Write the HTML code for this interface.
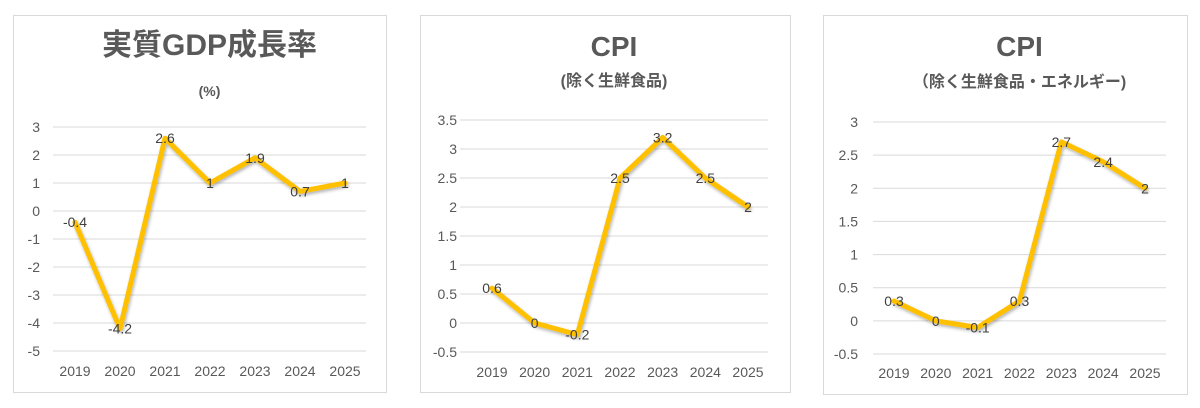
<!DOCTYPE html>
<html><head><meta charset="utf-8">
<style>
body{margin:0;background:#fff;width:1200px;height:408px;overflow:hidden;font-family:"Liberation Sans","Noto Sans CJK JP",sans-serif}
svg{position:absolute;left:0;top:0}
</style></head>
<body>
<svg id="c" width="1200" height="408"></svg>
<script>
const years=["2019","2020","2021","2022","2023","2024","2025"];
const gdpValues=[-0.4,-4.2,2.6,1,1.9,0.7,1];
const gdpTicks=[3,2,1,0,-1,-2,-3,-4,-5];
const cpiValues=[0.6,0,-0.2,2.5,3.2,2.5,2];
const cpiTicks=[3.5,3,2.5,2,1.5,1,0.5,0,-0.5];
const coreValues=[0.3,0,-0.1,0.3,2.7,2.4,2];
const coreTicks=[3,2.5,2,1.5,1,0.5,0,-0.5];

const NS="http://www.w3.org/2000/svg";
const svg=document.getElementById('c');
function mk(tag,attrs,parent,text){const e=document.createElementNS(NS,tag);for(const k in attrs)e.setAttribute(k,attrs[k]);if(text!==undefined)e.textContent=text;(parent||svg).appendChild(e);return e;}

const panels=[
 {name:'gdp',box:[13,15,373,377],title:'実質GDP成長率',tY:55,tS:30,sub:'(%)',sY:96,sS:14,gx0:53,gx1:366,ymax:3,ymin:-5,yTop:127,yBot:351,c0:75,c1:345,xlY:376,vals:gdpValues,ticks:gdpTicks,tickX:40},
 {name:'cpi',box:[420,15,370,377],title:'CPI',tY:56,tS:28,sub:'(除く生鮮食品)',sY:86,sS:16,gx0:460,gx1:768,ymax:3.5,ymin:-0.5,yTop:120,yBot:352,c0:492,c1:748,xlY:377,vals:cpiValues,ticks:cpiTicks,tickX:457},
 {name:'core-cpi',box:[823,15,364,379],title:'CPI',tY:56,tS:28,sub:'（除く生鮮食品・エネルギー)',sY:87,sS:16,gx0:873,gx1:1166,ymax:3,ymin:-0.5,yTop:122,yBot:354,c0:894,c1:1145,xlY:378,vals:coreValues,ticks:coreTicks,tickX:858}
];
const defs=mk('defs',{});
const f=mk('filter',{id:'sh',x:'-10%',y:'-10%',width:'120%',height:'130%'},defs);
mk('feDropShadow',{dx:'1',dy:'2',stdDeviation:'1.5','flood-color':'#000','flood-opacity':'0.3'},f);

panels.forEach(p=>{
 const g=mk('g',{});
 
 
 const r=mk('rect',{x:p.box[0]+.5,y:p.box[1]+.5,width:p.box[2],height:p.box[3],fill:'#fff',stroke:'#d9d9d9'},g);
 
 
 const cx=(p.gx0+p.gx1)/2;
 const t=mk('text',{x:cx,y:p.tY,'text-anchor':'middle','font-size':p.tS,'font-weight':'bold',fill:'#595959'},g,p.title);
 
 
 const s=mk('text',{x:cx,y:p.sY,'text-anchor':'middle','font-size':p.sS,'font-weight':'bold',fill:'#595959'},g,p.sub);
 
 
 const yS=v=>p.yTop+(p.ymax-v)/(p.ymax-p.ymin)*(p.yBot-p.yTop);
 const xS=i=>p.c0+i*(p.c1-p.c0)/(years.length-1);
 p.ticks.forEach(v=>{
  const l=mk('line',{x1:p.gx0,x2:p.gx1,y1:yS(v),y2:yS(v),stroke:'#d9d9d9','stroke-width':1},g);
  
  
  const tt=mk('text',{x:p.tickX,y:yS(v)+5,'text-anchor':'end','font-size':14,fill:'#595959'},g,String(v));
  
  
 });
 years.forEach((yr,i)=>{
  const xt=mk('text',{x:xS(i),y:p.xlY,'text-anchor':'middle','font-size':14,fill:'#595959'},g,yr);
  
  
 });
 const pts=p.vals.map((v,i)=>xS(i)+','+yS(v)).join(' ');
 const pl=mk('polyline',{points:pts,fill:'none',stroke:'#FFC000','stroke-width':5,'stroke-linejoin':'round','stroke-linecap':'round',filter:'url(#sh)'},g);
 
 
 p.vals.forEach((v,i)=>{
  const dl=mk('text',{x:xS(i),y:yS(v)+5,'text-anchor':'middle','font-size':14,fill:'#404040'},g,String(v));
  
  
 });
});
</script>
</body></html>
